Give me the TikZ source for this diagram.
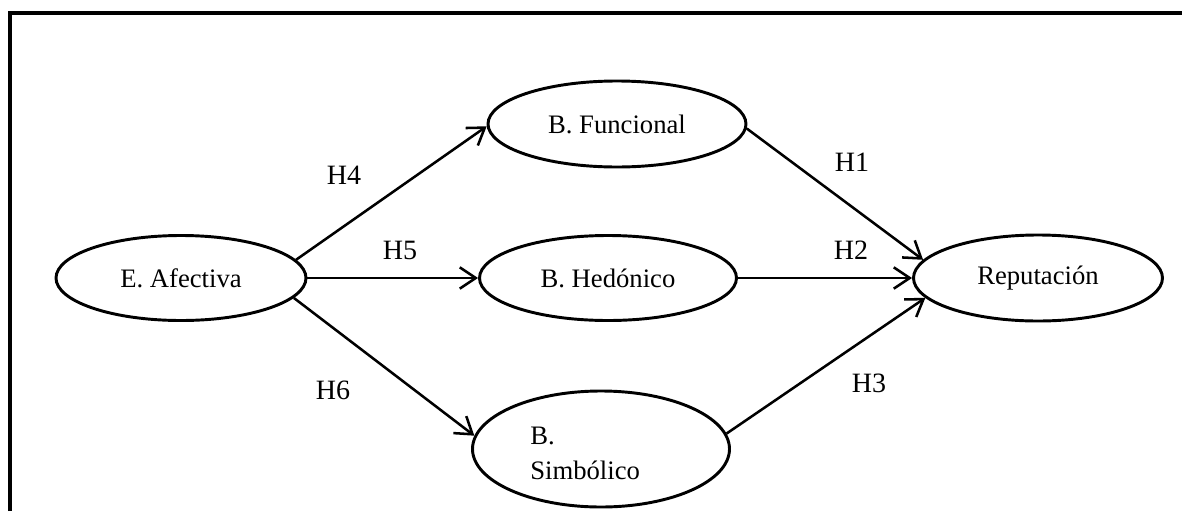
\documentclass[tikz,border=0pt]{standalone}
\usepackage{fontspec}
\setmainfont{Liberation Serif}
\usetikzlibrary{shapes.geometric,arrows.meta}
\begin{document}
\begin{tikzpicture}[x=0.75pt,y=-0.75pt,
  construct/.style={ellipse,draw,line width=2.2pt,inner sep=0pt,
    font=\fontsize{20}{26}\selectfont},
  hyp/.style={font=\fontsize{21}{26}\selectfont,inner sep=0pt},
  link/.style={line width=1.9pt,-{Straight Barb[length=12pt,width=16pt]}},
  frame/.style={line width=2.8pt}]
\useasboundingbox (0,0) rectangle (1182,511);
\coordinate (fl) at (10,511);
\coordinate (fc) at (10,13);
\coordinate (fr) at (1182,13);
\draw[frame] (fl) -- (fc) -- (fr);

\node[construct,minimum width=187.5pt,minimum height=63.75pt] (ea) at (181,278) {E. Afectiva};
\node[construct,minimum width=193.5pt,minimum height=64.5pt] (bf) at (617,124) {B. Funcional};
\node[construct,minimum width=192.75pt,minimum height=63.75pt] (bh) at (608,278) {B. Hedónico};
\node[construct,minimum width=192.75pt,minimum height=87pt] (bs) at (601,449) {};
\node[font=\fontsize{20}{26.25}\selectfont,align=left,inner sep=0pt,anchor=north west] (bstxt) at (530,427) {B.\\Simbólico};
\node[construct,minimum width=186.75pt,minimum height=64.5pt] (rep) at (1038,278) {Reputación};

\draw[link] (ea.9.5) -- (bf.181);
\draw[link] (ea.east) -- (bh.west);
\draw[link] (ea.-10.6) -- (bs.174);
\draw[link] (bf.-2) -- (rep.171);
\draw[link] (bh.east) -- (rep.west);
\draw[link] (bs.7.5) -- (rep.190);

\node[hyp] (h4) at (344,175) {H4};
\node[hyp] (h5) at (400,250) {H5};
\node[hyp] (h6) at (333,390) {H6};
\node[hyp] (h1) at (852,162) {H1};
\node[hyp] (h2) at (851,250) {H2};
\node[hyp] (h3) at (869,383) {H3};
\end{tikzpicture}
\end{document}
